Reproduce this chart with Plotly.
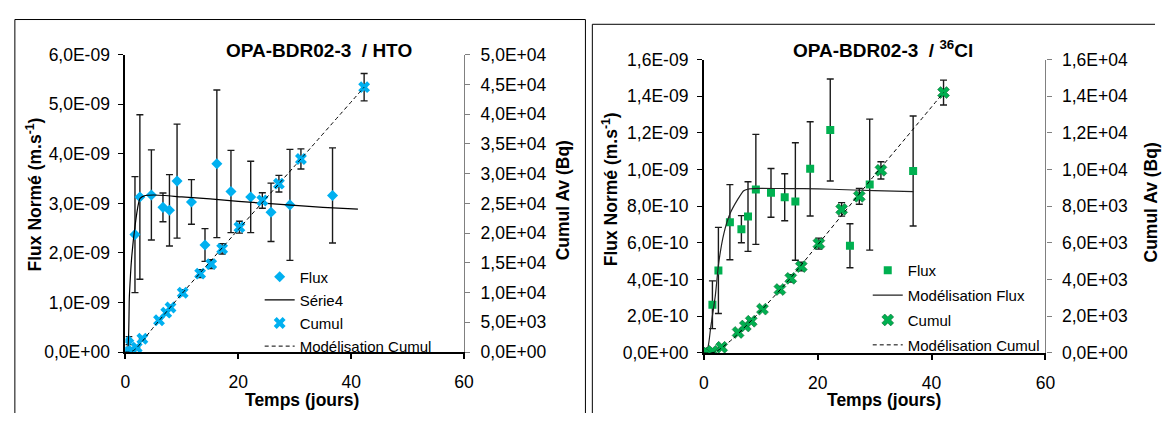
import plotly.graph_objects as go

W, H = 1165, 423

# ---------------- Data: left panel (HTO) ----------------
hto_flux_t = [0.0, 0.6, 1.69, 2.56, 4.6, 6.65, 7.8, 9.15, 11.7, 14.1, 16.2, 18.7, 22.2, 25.8, 29.15, 36.7]
hto_flux = [0.0, 0.23, 2.37, 3.13, 3.17, 2.92, 2.86, 3.45, 3.03, 2.16, 3.80, 3.24, 3.13, 2.82, 2.97, 3.16]  # x1e-9
hto_flux_err = [0.0, 0.08, 1.17, 1.66, 0.91, 0.29, 0.72, 1.15, 0.45, 0.33, 1.49, 0.83, 0.72, 0.59, 1.12, 0.96]
hto_model_t = [0, 0.35, 0.7, 1.1, 1.7, 2.3, 2.6, 3.5, 5, 7, 10, 15, 20, 25, 30, 35, 41.2]
hto_model = [0, 0.02, 1.13, 1.9, 2.54, 2.99, 3.10, 3.16, 3.17, 3.16, 3.13, 3.09, 3.04, 3.00, 2.96, 2.92, 2.885]
hto_cumul_t = [0, 0.7, 1.3, 2.0, 3.0, 5.95, 7.23, 7.99, 10.15, 13.24, 15.2, 17.14, 20.2, 24.26, 27.2, 31.1, 42.3]
hto_cumul = [0, 0, 150, 750, 2240, 5340, 6620, 7480, 9980, 13190, 14790, 17360, 21000, 25480, 28320, 32480, 44550]
hto_cumul_err = [0, 0, 10, 40, 110, 270, 330, 370, 500, 660, 740, 870, 1000, 1300, 1400, 1700, 2300]
hto_cmod_t = [0, 0.5, 1, 1.5, 2, 3, 5, 10, 20, 30, 42.3]
hto_cmod = [0, 0, 50, 300, 700, 1800, 4200, 9800, 20600, 31300, 44550]

# ---------------- Data: right panel (36Cl) ----------------
cl_flux_t = [0.3, 1.5, 2.55, 4.57, 6.59, 7.75, 9.13, 11.79, 14.2, 16.07, 18.67, 22.2, 25.66, 29.13, 36.76]
cl_flux = [0.0, 2.63, 4.5, 7.13, 6.75, 7.44, 8.92, 8.73, 8.49, 8.26, 10.04, 12.16, 5.85, 9.18, 9.92]  # x1e-10
cl_flux_err = [0, 1.3, 2.35, 2.05, 0.74, 1.9, 3.0, 1.33, 1.28, 3.2, 2.57, 2.78, 1.2, 3.57, 3.0]
cl_model_t = [0, 0.7, 1.2, 2.0, 2.6, 3.5, 4.6, 6.0, 7.0, 8.0, 10, 15, 20, 25, 30, 36.8]
cl_model = [0, 0.3, 1.4, 3.1, 4.9, 6.5, 7.6, 8.4, 8.85, 8.95, 8.98, 8.96, 8.95, 8.9, 8.85, 8.8]
cl_cumul_t = [0, 0.6, 1.5, 3.12, 6.01, 7.28, 8.32, 10.29, 13.35, 15.26, 17.11, 20.2, 24.2, 27.3, 31.1, 42.1]
cl_cumul = [0, 0, 90, 310, 1120, 1470, 1730, 2390, 3460, 4070, 4710, 5960, 7830, 8540, 9960, 14200]
cl_cumul_err = [0, 0, 5, 15, 55, 75, 85, 120, 170, 200, 235, 300, 370, 430, 470, 675]
cl_cmod_t = [0, 1, 2, 3, 5, 7, 10, 15, 20, 25, 30, 35, 42.1]
cl_cmod = [0, 0, 50, 250, 750, 1350, 2300, 4000, 5900, 7800, 9700, 11550, 14200]

# ---------------- Tick labels ----------------
x_ticks = [0, 20, 40, 60]
hto_flux_tickvals = [0, 1e-9, 2e-9, 3e-9, 4e-9, 5e-9, 6e-9]
hto_flux_ticktext = ["0,0E+00", "1,0E-09", "2,0E-09", "3,0E-09", "4,0E-09", "5,0E-09", "6,0E-09"]
hto_cum_tickvals = [0, 5e3, 1e4, 1.5e4, 2e4, 2.5e4, 3e4, 3.5e4, 4e4, 4.5e4, 5e4]
hto_cum_ticktext = ["0,0E+00", "5,0E+03", "1,0E+04", "1,5E+04", "2,0E+04", "2,5E+04",
                    "3,0E+04", "3,5E+04", "4,0E+04", "4,5E+04", "5,0E+04"]
cl_flux_tickvals = [0, 2e-10, 4e-10, 6e-10, 8e-10, 1e-9, 1.2e-9, 1.4e-9, 1.6e-9]
cl_flux_ticktext = ["0,0E+00", "2,0E-10", "4,0E-10", "6,0E-10", "8,0E-10", "1,0E-09", "1,2E-09", "1,4E-09", "1,6E-09"]
cl_cum_tickvals = [0, 2e3, 4e3, 6e3, 8e3, 1e4, 1.2e4, 1.4e4, 1.6e4]
cl_cum_ticktext = ["0,0E+00", "2,0E+03", "4,0E+03", "6,0E+03", "8,0E+03", "1,0E+04", "1,2E+04", "1,4E+04", "1,6E+04"]

FONT = "Arial, Liberation Sans, sans-serif"
BLUE = "#00B0F0"
GREEN = "#00B050"


def px(x):
    return x / W


def py(y):
    return 1 - y / H


fig = go.Figure()

ERR = dict(type="data", color="#1a1a1a", thickness=1.4, width=3.5)

# Left panel traces
fig.add_trace(go.Scatter(
    x=hto_flux_t, y=[v * 1e-9 for v in hto_flux], mode="markers", name="Flux",
    marker=dict(symbol="diamond", size=8.5, color=BLUE),
    error_y=dict(array=[e * 1e-9 for e in hto_flux_err], **ERR),
    xaxis="x", yaxis="y", legend="legend", legendgroup="a1"))
fig.add_trace(go.Scatter(
    x=hto_model_t, y=[v * 1e-9 for v in hto_model], mode="lines", name="Série4",
    line=dict(color="#000000", width=1.2, shape="spline", smoothing=0.6),
    xaxis="x", yaxis="y", legend="legend", legendgroup="a2"))
fig.add_trace(go.Scatter(
    x=hto_cumul_t, y=hto_cumul, mode="markers", name="Cumul",
    marker=dict(symbol="x", size=10.5, color=BLUE),
    error_y=dict(array=hto_cumul_err, **ERR),
    xaxis="x", yaxis="y2", legend="legend", legendgroup="a3"))
fig.add_trace(go.Scatter(
    x=hto_cmod_t, y=hto_cmod, mode="lines", name="Modélisation Cumul",
    line=dict(color="#000000", width=1, dash="4px,3px", shape="spline", smoothing=0.5),
    xaxis="x", yaxis="y2", legend="legend", legendgroup="a4"))

# Right panel traces
fig.add_trace(go.Scatter(
    x=cl_flux_t, y=[v * 1e-10 for v in cl_flux], mode="markers", name="Flux",
    marker=dict(symbol="square", size=8, color=GREEN),
    error_y=dict(array=[e * 1e-10 for e in cl_flux_err], **ERR),
    xaxis="x2", yaxis="y3", legend="legend2", legendgroup="b1"))
fig.add_trace(go.Scatter(
    x=cl_model_t, y=[v * 1e-10 for v in cl_model], mode="lines", name="Modélisation Flux",
    line=dict(color="#222222", width=1.2, shape="spline", smoothing=0.6),
    xaxis="x2", yaxis="y3", legend="legend2", legendgroup="b2"))
fig.add_trace(go.Scatter(
    x=cl_cumul_t, y=cl_cumul, mode="markers", name="Cumul",
    marker=dict(symbol="x", size=10.5, color=GREEN, line=dict(color="#0b6b34", width=0.6)),
    error_y=dict(array=cl_cumul_err, **ERR),
    xaxis="x2", yaxis="y4", legend="legend2", legendgroup="b3"))
fig.add_trace(go.Scatter(
    x=cl_cmod_t, y=cl_cmod, mode="lines", name="Modélisation Cumul",
    line=dict(color="#000000", width=1, dash="4px,3px", shape="spline", smoothing=0.5),
    xaxis="x2", yaxis="y4", legend="legend2", legendgroup="b4"))

TICKFONT = dict(family=FONT, size=17.5, color="#000000")


def xaxis(domain, anchor):
    return dict(domain=domain, anchor=anchor, range=[0, 60], tickvals=x_ticks,
                ticks="outside", ticklen=5, tickcolor="#000", tickwidth=1.5,
                showline=True, linecolor="#000", linewidth=2, showgrid=False, zeroline=False,
                tickfont=TICKFONT, ticklabelstandoff=8, fixedrange=True)


def yleft(domain, anchor, rng, vals, text):
    return dict(domain=domain, anchor=anchor, range=rng, tickvals=vals, ticktext=text,
                ticks="outside", ticklen=5, tickcolor="#000", tickwidth=1.2,
                showline=True, linecolor="#000", linewidth=2, showgrid=False, zeroline=False,
                tickfont=TICKFONT, ticklabelstandoff=5, fixedrange=True)


def yright(overlay, anchor, rng, vals, text):
    return dict(overlaying=overlay, anchor=anchor, side="right", range=rng, tickvals=vals, ticktext=text,
                ticks="outside", ticklen=5, tickcolor="#808080", tickwidth=1,
                showline=True, linecolor="#808080", linewidth=1.2, showgrid=False, zeroline=False,
                tickfont=TICKFONT, ticklabelstandoff=7, fixedrange=True)


LEG_FONT = dict(family=FONT, size=15, color="#000")

fig.update_layout(
    width=W, height=H, margin=dict(l=0, r=0, t=0, b=0),
    paper_bgcolor="white", plot_bgcolor="rgba(0,0,0,0)",
    font=dict(family=FONT, color="#000"),
    xaxis=xaxis([px(122), px(465)], "y"),
    yaxis=yleft([py(359), py(47)], "x", [0, 6e-9], hto_flux_tickvals, hto_flux_ticktext),
    yaxis2=yright("y", "x", [0, 5e4], hto_cum_tickvals, hto_cum_ticktext),
    xaxis2=xaxis([px(708), px(1054)], "y3"),
    yaxis3=yleft([py(360), py(52)], "x2", [0, 1.6e-9], cl_flux_tickvals, cl_flux_ticktext),
    yaxis4=yright("y3", "x2", [0, 1.6e4], cl_cum_tickvals, cl_cum_ticktext),
    legend=dict(x=px(258), y=py(263), xanchor="left", yanchor="top", bgcolor="rgba(0,0,0,0)",
                font=LEG_FONT, tracegroupgap=0.6, itemwidth=30),
    legend2=dict(x=px(874), y=py(256), xanchor="left", yanchor="top", bgcolor="rgba(0,0,0,0)",
                 font=LEG_FONT, tracegroupgap=2.4, itemwidth=30),
    showlegend=True,
)

# Panel borders (kept inside the page)
BORDER = dict(color="#000", width=1)
for (x0, y0, x1, y1) in [(10, 10, 588, 10), (10, 10, 10, 423), (588, 10, 588, 423),
                         (595, 15, 1165, 15), (595, 15, 595, 423)]:
    fig.add_shape(type="line", xref="paper", yref="paper", x0=px(x0), x1=px(x1), y0=py(y0), y1=py(y1),
                  line=BORDER, layer="below")

TITLE_FONT = dict(family=FONT, size=19, color="#000")
AX_FONT = dict(family=FONT, size=17.5, color="#000")

annotations = [
    dict(text="<b>OPA-BDR02-3\u00a0 / HTO</b>", x=px(318), y=py(42), font=TITLE_FONT),
    dict(text="<b>OPA-BDR02-3\u00a0 / <sup>36</sup>Cl</b>", x=px(889), y=py(41), font=TITLE_FONT),
    dict(text="<b>Temps (jours)</b>", x=px(301), y=py(409), font=AX_FONT),
    dict(text="<b>Temps (jours)</b>", x=px(890), y=py(409), font=AX_FONT),
    dict(text="<b>Flux Normé (m.s<sup>-1</sup>)</b>", x=px(29), y=py(194), font=AX_FONT, textangle=-90),
    dict(text="<b>Cumul Av (Bq)</b>", x=px(565), y=py(200), font=AX_FONT, textangle=-90),
    dict(text="<b>Flux Normé (m.s<sup>-1</sup>)</b>", x=px(613), y=py(188), font=AX_FONT, textangle=-90),
    dict(text="<b>Cumul Av (Bq)</b>", x=px(1161), y=py(202), font=AX_FONT, textangle=-90),
]
for a in annotations:
    fig.add_annotation(xref="paper", yref="paper", showarrow=False, xanchor="center", yanchor="middle", **a)

POST = ("document.documentElement.style.margin='0';document.documentElement.style.padding='0';"
        "document.documentElement.style.overflow='hidden';"
        "document.body.style.margin='0';document.body.style.padding='0';document.body.style.overflow='hidden';"
        "var gd=document.getElementById('{plot_id}');gd.style.overflow='hidden';"
        "if(gd.parentElement){gd.parentElement.style.overflow='hidden';}")

fig.write_html("out.html", config={"displayModeBar": False}, post_script=POST)
